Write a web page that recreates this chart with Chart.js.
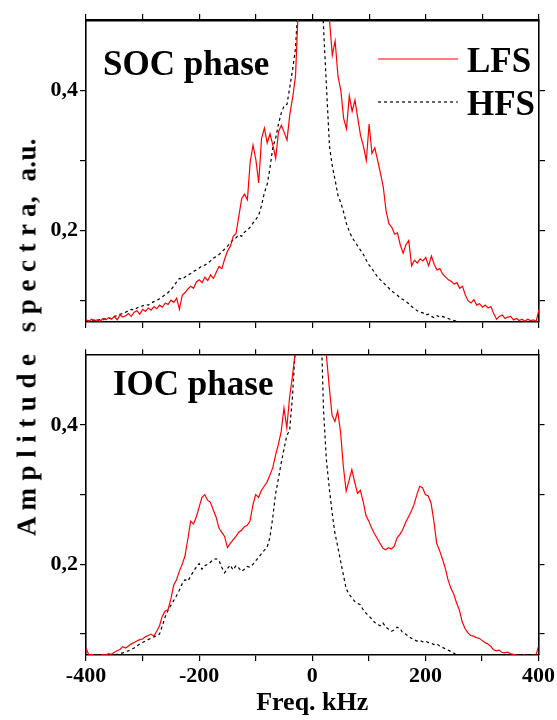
<!DOCTYPE html>
<html>
<head>
<meta charset="utf-8">
<script src="https://cdn.jsdelivr.net/npm/chart.js@4.4.1/dist/chart.umd.min.js"></script>
<style>
  html, body { margin: 0; padding: 0; background: #fff; }
  #wrap { position: relative; width: 557px; height: 720px; overflow: hidden; }
  canvas { position: absolute; left: 0; }
  #topChart { top: 0; }
  #bottomChart { top: 340px; }
  #ytitle {
    position: absolute; left: 27px; top: 337px;
    transform: translate(-50%, -50%) rotate(-90deg);
    font: bold 27px "Liberation Serif", "Times New Roman", serif;
    letter-spacing: 0.4px;
    white-space: pre; color: #000;
  }
</style>
</head>
<body>
<div id="wrap">
  <canvas id="topChart" width="557" height="340"></canvas>
  <canvas id="bottomChart" width="557" height="380"></canvas>
  <div id="ytitle">A m p l i t u d e   s p e c t r a,  a.u.</div>
</div>
<script>
// frequency grid, kHz
var freq = [
  -400, -395, -390, -385, -380, -375, -370, -365, -360, -355,
  -350, -345, -340, -335, -330, -325, -320, -315, -310, -305,
  -300, -295, -290, -285, -280, -275, -270, -265, -260, -255,
  -250, -245, -240, -235, -230, -225, -220, -215, -210, -205,
  -200, -195, -190, -185, -180, -175, -170, -165, -160, -155,
  -150, -145, -140, -135, -130, -125, -120, -115, -110, -105,
  -100, -95, -90, -85, -80, -75, -70, -65, -60, -55,
  -50, -45, -40, -35, -30,
  -25, -20, -15, -10, -5, 0, 5, 10, 15, 20, 25,
  30, 35, 40, 45, 50, 55, 60, 65, 70, 75,
  80, 85, 90, 95, 100, 105, 110, 115, 120, 125,
  130, 135, 140, 145, 150, 155, 160, 165, 170, 175,
  180, 185, 190, 195, 200, 205, 210, 215, 220, 225,
  230, 235, 240, 245, 250, 255, 260, 265, 270, 275,
  280, 285, 290, 295, 300, 305, 310, 315, 320, 325,
  330, 335, 340, 345, 350, 355, 360, 365, 370, 375,
  380, 385, 390, 395, 400
];

// SOC phase
var socLFS = [
  0.073, 0.071, 0.074, 0.072, 0.073, 0.071, 0.075, 0.073, 0.076, 0.074,
  0.078, 0.073, 0.080, 0.077, 0.079, 0.082, 0.078, 0.084, 0.086, 0.081,
  0.088, 0.085, 0.090, 0.087, 0.092, 0.089, 0.094, 0.091, 0.097, 0.095,
  0.101, 0.098, 0.104, 0.088, 0.108, 0.112, 0.117, 0.121, 0.118, 0.127,
  0.130, 0.126, 0.134, 0.129, 0.137, 0.132, 0.141, 0.149, 0.146, 0.160,
  0.171, 0.178, 0.192, 0.196, 0.221, 0.246, 0.252, 0.244, 0.298, 0.322,
  0.301, 0.268, 0.331, 0.346, 0.325, 0.338, 0.322, 0.303, 0.341, 0.350,
  0.340, 0.329, 0.366, 0.390, 0.420,
  0.52, 0.65, 0.8, 0.95, 1.0, 1.0, 1.0, 0.95, 0.8, 0.65, 0.55,
  0.50, 0.45, 0.47, 0.42, 0.40, 0.36, 0.345, 0.392, 0.37, 0.386,
  0.36, 0.335, 0.320, 0.300, 0.352, 0.310, 0.318, 0.300, 0.282, 0.262,
  0.228, 0.210, 0.205, 0.195, 0.197, 0.180, 0.168, 0.180, 0.186, 0.150,
  0.158, 0.154, 0.160, 0.157, 0.162, 0.150, 0.164, 0.152, 0.144, 0.146,
  0.138, 0.134, 0.130, 0.128, 0.124, 0.126, 0.118, 0.121, 0.108, 0.100,
  0.097, 0.102, 0.094, 0.096, 0.091, 0.094, 0.090, 0.092, 0.082, 0.074,
  0.078, 0.080, 0.075, 0.077, 0.078, 0.073, 0.075, 0.072, 0.074, 0.071,
  0.074, 0.072, 0.073, 0.071, 0.088
];
var socHFS = [
  0.071, 0.072, 0.071, 0.073, 0.072, 0.074, 0.073, 0.075, 0.076, 0.075,
  0.078, 0.079, 0.081, 0.082, 0.084, 0.086, 0.088, 0.087, 0.090, 0.092,
  0.093, 0.095, 0.094, 0.097, 0.099, 0.101, 0.103, 0.106, 0.109, 0.112,
  0.116, 0.121, 0.127, 0.132, 0.131, 0.134, 0.137, 0.139, 0.142, 0.144,
  0.147, 0.150, 0.151, 0.154, 0.157, 0.161, 0.163, 0.166, 0.170, 0.174,
  0.178, 0.183, 0.187, 0.190, 0.194, 0.192, 0.198, 0.201, 0.205, 0.211,
  0.216, 0.222, 0.236, 0.254, 0.266, 0.290, 0.319, 0.332, 0.352, 0.368,
  0.378, 0.380, 0.405, 0.430, 0.460,
  0.53, 0.62, 0.75, 0.9, 1.0, 1.0, 0.9, 0.75, 0.58, 0.48, 0.40,
  0.320, 0.292, 0.272, 0.250, 0.240, 0.226, 0.210, 0.199, 0.190, 0.184,
  0.178, 0.172, 0.166, 0.158, 0.151, 0.146, 0.140, 0.134, 0.130, 0.126,
  0.122, 0.118, 0.114, 0.111, 0.108, 0.104, 0.102, 0.099, 0.096, 0.092,
  0.089, 0.086, 0.084, 0.083, 0.080, 0.081, 0.078, 0.076, 0.079, 0.077,
  0.078, 0.076, 0.075, 0.073, 0.072, 0.071, 0.070, 0.069, 0.068, 0.067,
  0.066, 0.066, 0.065, 0.065, 0.065, 0.065, 0.065, 0.065, 0.065, 0.065,
  0.065, 0.065, 0.065, 0.065, 0.065, 0.065, 0.065, 0.065, 0.065, 0.065,
  0.065, 0.065, 0.065, 0.065, 0.065
];

// IOC phase
var iocLFS = [
  0.080, 0.070, 0.071, 0.069, 0.070, 0.069, 0.071, 0.070, 0.072, 0.071,
  0.074, 0.076, 0.078, 0.082, 0.080, 0.083, 0.086, 0.088, 0.090, 0.092,
  0.093, 0.096, 0.098, 0.100, 0.097, 0.104, 0.112, 0.126, 0.133, 0.135,
  0.150, 0.170, 0.178, 0.190, 0.200, 0.212, 0.236, 0.262, 0.258, 0.268,
  0.282, 0.296, 0.300, 0.292, 0.289, 0.278, 0.268, 0.252, 0.246, 0.240,
  0.224, 0.230, 0.235, 0.240, 0.246, 0.249, 0.254, 0.256, 0.262, 0.285,
  0.300, 0.296, 0.306, 0.312, 0.318, 0.328, 0.338, 0.356, 0.372, 0.390,
  0.424, 0.396, 0.440, 0.470, 0.505,
  0.56, 0.65, 0.8, 0.95, 1.0, 1.0, 1.0, 0.9, 0.75, 0.6, 0.50,
  0.455, 0.414, 0.405, 0.420, 0.390, 0.340, 0.305, 0.320, 0.336, 0.318,
  0.302, 0.306, 0.290, 0.270, 0.262, 0.252, 0.244, 0.237, 0.230, 0.223,
  0.221, 0.224, 0.222, 0.226, 0.238, 0.243, 0.250, 0.260, 0.268, 0.276,
  0.286, 0.300, 0.312, 0.310, 0.300, 0.298, 0.288, 0.262, 0.230, 0.220,
  0.208, 0.195, 0.178, 0.166, 0.158, 0.145, 0.135, 0.118, 0.108, 0.102,
  0.098, 0.097, 0.095, 0.094, 0.091, 0.088, 0.086, 0.083, 0.078, 0.076,
  0.077, 0.074, 0.073, 0.074, 0.072, 0.071, 0.070, 0.069, 0.069, 0.070,
  0.068, 0.069, 0.070, 0.069, 0.082
];
var iocHFS = [
  0.066, 0.066, 0.067, 0.066, 0.067, 0.067, 0.068, 0.067, 0.068, 0.069,
  0.070, 0.071, 0.072, 0.073, 0.075, 0.076, 0.078, 0.080, 0.083, 0.086,
  0.088, 0.090, 0.092, 0.094, 0.096, 0.098, 0.100, 0.112, 0.125, 0.134,
  0.141, 0.148, 0.155, 0.163, 0.172, 0.178, 0.176, 0.183, 0.190, 0.196,
  0.201, 0.193, 0.198, 0.200, 0.203, 0.207, 0.208, 0.206, 0.196, 0.188,
  0.194, 0.199, 0.192, 0.198, 0.195, 0.190, 0.193, 0.197, 0.196, 0.200,
  0.205, 0.210, 0.215, 0.220, 0.224, 0.238, 0.266, 0.300, 0.322, 0.345,
  0.365, 0.385, 0.392, 0.440, 0.510,
  0.6, 0.7, 0.85, 1.0, 1.0, 1.0, 0.95, 0.8, 0.56, 0.42, 0.35,
  0.310, 0.275, 0.245, 0.226, 0.205, 0.185, 0.165, 0.157, 0.152, 0.147,
  0.144, 0.142, 0.135, 0.130, 0.126, 0.122, 0.117, 0.114, 0.112, 0.116,
  0.110, 0.107, 0.104, 0.106, 0.110, 0.108, 0.102, 0.100, 0.097, 0.094,
  0.092, 0.090, 0.091, 0.089, 0.090, 0.088, 0.087, 0.085, 0.086, 0.083,
  0.081, 0.079, 0.077, 0.075, 0.073, 0.070, 0.068, 0.066, 0.067, 0.069,
  0.066, 0.065, 0.065, 0.065, 0.065, 0.065, 0.065, 0.065, 0.065, 0.065,
  0.065, 0.065, 0.065, 0.065, 0.065, 0.065, 0.065, 0.065, 0.065, 0.065,
  0.065, 0.065, 0.065, 0.065, 0.065
];

var xTicks = [-400, -300, -200, -100, 0, 100, 200, 300, 400];
var yTicks = [0.1, 0.2, 0.3, 0.4];
var xLabels = { "-400": "-400", "-200": "-200", "0": "0", "200": "200", "400": "400" };
var yLabels = { "0.2": "0,2", "0.4": "0,4" };

var serif = '"Liberation Serif", "Times New Roman", serif';

let toPoints = (ys) => freq.map((f, i) => ({ x: f, y: ys[i] }));

// panel title + legend drawn inside the plot area
var panelText = {
  id: "panelText",
  afterDatasetsDraw(chart, args, opts) {
    var ctx = chart.ctx;
    ctx.save();
    ctx.fillStyle = "#000";
    ctx.font = "bold 35px " + serif;
    ctx.textBaseline = "alphabetic";
    ctx.fillText(opts.title, opts.titleX, opts.titleY);
    if (opts.legend) {
      chart.data.datasets.forEach((ds, i) => {
        var y = opts.legendY[i];
        ctx.beginPath();
        ctx.strokeStyle = ds.borderColor;
        ctx.lineWidth = ds.borderWidth;
        ctx.setLineDash(ds.borderDash || []);
        ctx.moveTo(378, y);
        ctx.lineTo(458, y);
        ctx.stroke();
        ctx.fillText(ds.label, 467, y + 13);
      });
    }
    ctx.restore();
  },
};

let makeScales = (opt) => {
  var grid = { drawOnChartArea: false, color: "#000", tickLength: 6, lineWidth: 1.2 };
  var border = { color: "#000", width: 1.6 };
  return {
    x: {
      type: "linear", position: "bottom", min: -400, max: 400,
      afterBuildTicks: (s) => { s.ticks = xTicks.map((v) => ({ value: v })); },
      afterFit: (s) => { s.height = opt.bottomH; },
      grid: grid, border: border,
      ticks: {
        display: opt.showX, color: "#000", padding: 2, maxRotation: 0, autoSkip: false,
        font: { family: serif, size: 22, weight: "bold" },
        callback: (v) => xLabels[String(v)] || "",
      },
      title: {
        display: opt.showX, text: "Freq. kHz", color: "#000",
        font: { family: serif, size: 26, weight: "bold" }, padding: { top: 0, bottom: 1 },
      },
    },
    x2: {
      type: "linear", position: "top", min: -400, max: 400,
      afterBuildTicks: (s) => { s.ticks = xTicks.map((v) => ({ value: v })); },
      afterFit: (s) => { s.height = opt.topH; },
      grid: grid, border: { color: "#000", width: opt.topBorder },
      ticks: { display: false },
    },
    y: {
      type: "linear", position: "left", min: 0.07, max: 0.5,
      afterBuildTicks: (s) => { s.ticks = yTicks.map((v) => ({ value: v })); },
      afterFit: (s) => { s.width = 86; },
      grid: grid, border: border,
      ticks: {
        color: "#000", padding: 2,
        font: { family: serif, size: 22, weight: "bold" },
        callback: (v) => yLabels[String(Math.round(v * 10) / 10)] || "",
      },
    },
    y2: {
      type: "linear", position: "right", min: 0.07, max: 0.5,
      afterBuildTicks: (s) => { s.ticks = yTicks.map((v) => ({ value: v })); },
      afterFit: (s) => { s.width = 18; },
      grid: grid, border: border,
      ticks: { display: false },
    },
  };
};

let makeDatasets = (lfs, hfs) => [
  {
    label: "LFS", data: toPoints(lfs), xAxisID: "x", yAxisID: "y",
    borderColor: "#ff0000", borderWidth: 1.2, pointRadius: 0, tension: 0, clip: 0,
  },
  {
    label: "HFS", data: toPoints(hfs), xAxisID: "x", yAxisID: "y",
    borderColor: "#000000", borderWidth: 1.2, borderDash: [3, 3], pointRadius: 0, tension: 0, clip: 0,
  },
];

var topChart = new Chart(document.getElementById("topChart").getContext("2d"), {
  type: "line",
  data: { datasets: makeDatasets(socLFS, socHFS) },
  options: {
    responsive: false, animation: false,
    layout: { padding: 0 },
    scales: makeScales({ showX: false, bottomH: 18, topH: 20, topBorder: 2.4 }),
    plugins: {
      legend: { display: false }, tooltip: { enabled: false },
      panelText: { title: "SOC phase", titleX: 103, titleY: 75, legend: true, legendY: [59, 102] },
    },
  },
  plugins: [panelText],
});

var bottomChart = new Chart(document.getElementById("bottomChart").getContext("2d"), {
  type: "line",
  data: { datasets: makeDatasets(iocLFS, iocHFS) },
  options: {
    responsive: false, animation: false,
    layout: { padding: 0 },
    scales: makeScales({ showX: true, bottomH: 65, topH: 12, topBorder: 1.6 }),
    plugins: {
      legend: { display: false }, tooltip: { enabled: false },
      panelText: { title: "IOC phase", titleX: 113, titleY: 55, legend: false },
    },
  },
  plugins: [panelText],
});
</script>
</body>
</html>
